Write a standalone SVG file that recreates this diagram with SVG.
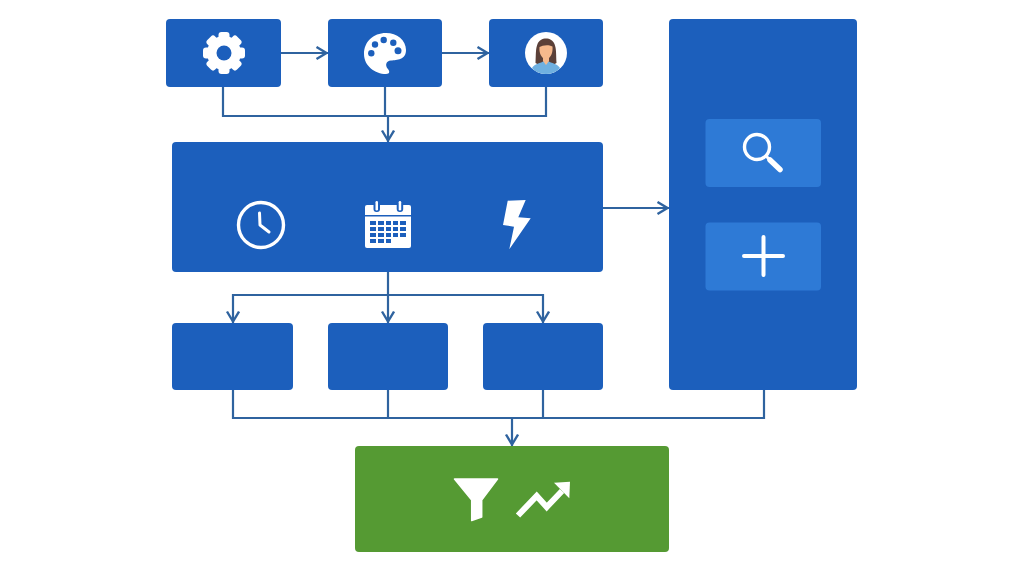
<svg xmlns="http://www.w3.org/2000/svg" width="1024" height="572" viewBox="0 0 1024 572">
<style>
.box{fill:#1c5fbc}
.panel{fill:#2e7ad6}
.green{fill:#559a33}
.conn{fill:none;stroke:#2f639f;stroke-width:2.2}
.arrow{marker-end:url(#head)}
.w{fill:#fff}
.ws{fill:none;stroke:#fff;stroke-linecap:round;stroke-linejoin:round}
.hole{fill:#1c5fbc}
</style>
<defs>
<marker id="head" markerUnits="userSpaceOnUse" markerWidth="16" markerHeight="16" refX="13" refY="7" orient="auto">
<path d="M1.500 1L11.500 7L1.500 13" fill="none" stroke="#2f639f" stroke-width="2.400"/>
</marker>
</defs>
<rect width="1024" height="572" fill="#fff"/>
<g id="connectors">
<path class="conn arrow" d="M281 53H328"/>
<path class="conn arrow" d="M442 53H489"/>
<path class="conn" d="M223 87V116H546V87"/>
<path class="conn" d="M385 87V116"/>
<path class="conn arrow" d="M388 116V142"/>
<path class="conn arrow" d="M603 208H669"/>
<path class="conn arrow" d="M388 272V323"/>
<path class="conn arrow" d="M388 295H233V323"/>
<path class="conn arrow" d="M388 295H543V323"/>
<path class="conn" d="M233 390V418H764V390"/>
<path class="conn" d="M388 390V418"/>
<path class="conn" d="M543 390V418"/>
<path class="conn arrow" d="M512 418V446"/>
</g>
<g id="node-settings">
<rect class="box" x="166" y="19" width="115" height="68" rx="4"/>
<g transform="translate(224 53)">
<circle class="w" r="17"/>
<g class="w">
<rect x="-5.500" y="-21" width="11" height="10" rx="3"/>
<rect x="-5.500" y="-21" width="11" height="10" rx="3" transform="rotate(45)"/>
<rect x="-5.500" y="-21" width="11" height="10" rx="3" transform="rotate(90)"/>
<rect x="-5.500" y="-21" width="11" height="10" rx="3" transform="rotate(135)"/>
<rect x="-5.500" y="-21" width="11" height="10" rx="3" transform="rotate(180)"/>
<rect x="-5.500" y="-21" width="11" height="10" rx="3" transform="rotate(225)"/>
<rect x="-5.500" y="-21" width="11" height="10" rx="3" transform="rotate(270)"/>
<rect x="-5.500" y="-21" width="11" height="10" rx="3" transform="rotate(315)"/>
</g>
<circle class="hole" r="7.500"/>
</g>
</g>
<g id="node-palette">
<rect class="box" x="328" y="19" width="114" height="68" rx="4"/>
<path class="w" d="M386 33C373 33 364 42 364 54C364 66 375 74 386 74C390 74 390 71 387.500 68.500C385 65 386 61 391 60.500C397 60 406 60 406 50C406 40 397 33 386 33Z"/>
<g class="hole">
<circle cx="375" cy="44.500" r="3.200"/>
<circle cx="383.700" cy="40" r="3.200"/>
<circle cx="393.300" cy="42.700" r="3.200"/>
<circle cx="398" cy="50.700" r="3.500"/>
<circle cx="371.300" cy="53.300" r="3.200"/>
</g>
</g>
<g id="node-person">
<rect class="box" x="489" y="19" width="114" height="68" rx="4"/>
<circle class="w" cx="546" cy="53" r="21"/>
<path fill="#5b4038" d="M535.500 63C536 54 535.500 49 537.500 44C540 36.500 552 36.500 554.500 44C556.500 49 556 54 556.500 63L551 66H541Z"/>
<path fill="#6fb0e0" d="M532 68C534 64 541 63 544 61H548C551 63 558 64 560 68C553 76 539 76 532 68Z"/>
<path fill="#f6b98c" d="M539.500 47C542 46 547 44 552.500 46.500C553 53 551 56 549 58V61L546 65L543 61V58C541 56 539 53 539.500 47Z"/>
</g>
<g id="node-main">
<rect class="box" x="172" y="142" width="431" height="130" rx="4"/>
<circle class="ws" cx="261" cy="225" r="22.500" stroke-width="3.400"/>
<path class="ws" stroke-width="3" d="M259.500 213L260 225L269 232"/>
<rect class="w" x="365" y="205" width="46" height="43" rx="2"/>
<g class="hole">
<rect x="365" y="215" width="46" height="1.500"/>
<rect x="370" y="221" width="6" height="4"/><rect x="378" y="221" width="6" height="4"/><rect x="386" y="221" width="5" height="4"/><rect x="393" y="221" width="5" height="4"/><rect x="400" y="221" width="6" height="4"/>
<rect x="370" y="227" width="6" height="4"/><rect x="378" y="227" width="6" height="4"/><rect x="386" y="227" width="5" height="4"/><rect x="393" y="227" width="5" height="4"/><rect x="400" y="227" width="6" height="4"/>
<rect x="370" y="233" width="6" height="4"/><rect x="378" y="233" width="6" height="4"/><rect x="386" y="233" width="5" height="4"/><rect x="393" y="233" width="5" height="4"/><rect x="400" y="233" width="6" height="4"/>
<rect x="370" y="239" width="6" height="4"/><rect x="378" y="239" width="6" height="4"/><rect x="386" y="239" width="5" height="4"/>
<rect x="373.500" y="200" width="6.500" height="12" rx="3"/>
<rect x="396.700" y="200" width="6.500" height="12" rx="3"/>
</g>
<rect class="w" x="375.500" y="201" width="2.500" height="9.500" rx="1.200"/>
<rect class="w" x="398.700" y="201" width="2.500" height="9.500" rx="1.200"/>
<path class="w" d="M507.700 200.700L525.700 200L518.300 217.300L530.700 218.300L509.300 249.300L514 226.700L503 225Z"/>
</g>
<g id="node-sub1"><rect class="box" x="172" y="323" width="121" height="67" rx="4"/></g>
<g id="node-sub2"><rect class="box" x="328" y="323" width="120" height="67" rx="4"/></g>
<g id="node-sub3"><rect class="box" x="483" y="323" width="120" height="67" rx="4"/></g>
<g id="node-side">
<rect class="box" x="669" y="19" width="188" height="371" rx="4"/>
<rect class="panel" x="705.500" y="119" width="115.500" height="68" rx="4"/>
<circle class="ws" cx="757" cy="147" r="12.500" stroke-width="3.400"/>
<path class="ws" stroke-width="3" d="M766 156L770 160"/>
<path class="ws" stroke-width="5.500" d="M770 160L780 169.500"/>
<rect class="panel" x="705.500" y="222.500" width="115.500" height="68" rx="4"/>
<path class="ws" stroke-width="4" d="M744 256H783M763.500 237V275"/>
</g>
<g id="node-result">
<rect class="green" x="355" y="446" width="314" height="106" rx="4"/>
<path class="w" stroke="#fff" stroke-width="1.500" stroke-linejoin="round" d="M454.500 479H497.500L481.700 500V517L471.700 520.500V500Z"/>
<path fill="none" stroke="#fff" stroke-width="6" d="M518 515.500L536.700 496L546.700 507L562 491"/>
<path class="w" d="M554 482.700L570 481.700L569.300 498.300Z"/>
</g>
</svg>
